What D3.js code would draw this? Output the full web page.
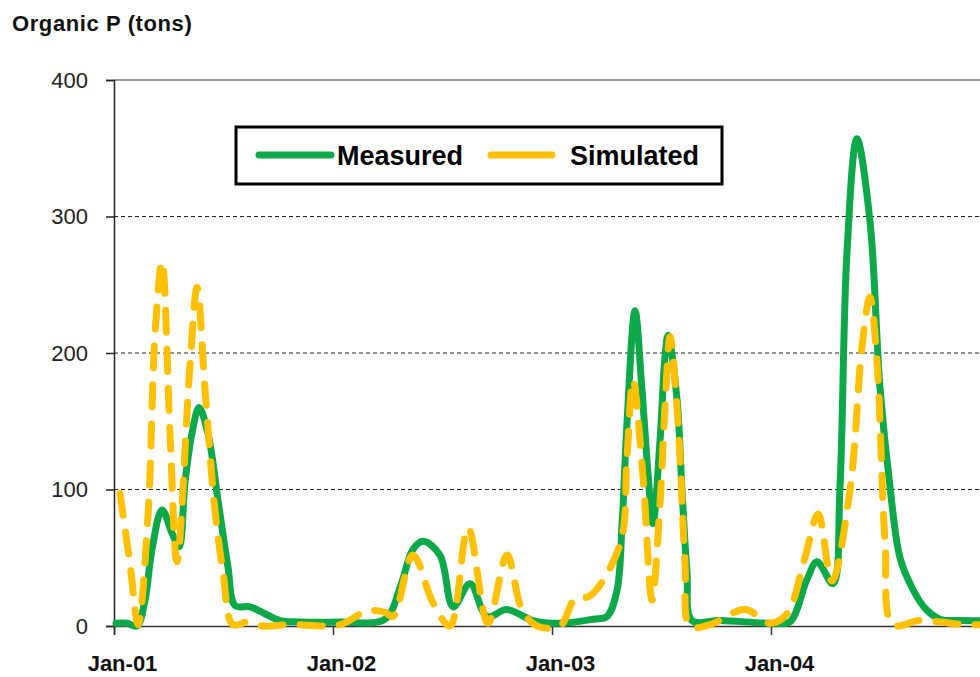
<!DOCTYPE html>
<html>
<head>
<meta charset="utf-8">
<script src="https://cdn.jsdelivr.net/npm/d3@7"></script>
<style>
  html, body { margin: 0; padding: 0; background: #ffffff; }
  svg { display: block; }
</style>
</head>
<body>
<div id="chart"></div>
<script>
// ---- Data (x = months since Jan 2001, y = tons) ----
const measuredMonths = [0.11, 0.71, 1.26, 1.70, 2.08, 2.63, 3.18, 3.56, 3.89, 4.27, 4.66, 5.15, 5.70, 6.25, 6.63, 7.45, 8.27, 9.10, 10.19, 12.38,
  14.85, 15.67, 16.38, 16.93, 17.86, 18.58, 19.51, 20.44, 21.53, 22.96, 24.44, 26.25, 27.01, 27.56, 27.84, 28.11, 28.55, 28.93, 29.26, 29.53,
  29.92, 30.19, 30.36, 30.85, 31.12, 31.40, 31.67, 33.21, 36.22, 37.04, 37.97, 38.52, 39.40, 39.78, 40.16, 40.71, 41.42, 41.97, 42.52, 43.07,
  43.73, 44.44, 45.26, 46.36, 48.0];
const measuredValues = [2, 2, 0, 19, 56, 85, 68, 58, 105, 141, 160, 141, 92, 43, 15, 14, 9, 4, 3, 3,
  5, 28, 56, 62, 52, 14, 31, 7, 12, 4, 2, 5, 7, 26, 75, 149, 231, 173, 112, 75,
  136, 197, 213, 166, 100, 39, 4, 4, 2, 3, 34, 47, 31, 102, 273, 357, 297, 175, 102, 50,
  28, 13, 5, 4, 4];

const simulatedMonths = [0.33, 0.88, 1.32, 1.86, 2.25, 2.63, 3.07, 3.45, 4.16, 4.55, 4.99, 5.53, 5.97, 6.52, 7.34, 8.11, 9.64, 12.38,
  13.86, 14.85, 15.29, 16.38, 17.48, 18.41, 19.40, 20.49, 21.53, 22.36, 23.18, 24.44, 25.26, 26.08, 27.73, 28.11, 28.44, 28.99, 29.48,
  29.92, 30.19, 30.47, 30.90, 31.29, 31.56, 32.66, 34.58, 35.95, 36.88, 37.86, 38.58, 39.34, 40.33, 40.99, 41.42, 41.81, 42.25, 42.68,
  44.16, 46.63, 48.0];
const simulatedValues = [97, 45, 1, 80, 214, 267, 141, 47, 190, 248, 173, 85, 40, 1, 3, 0, 1, 1,
  11, 10, 7, 52, 17, 0, 72, 2, 52, 12, 0, 0, 20, 22, 60, 124, 180, 109, 19,
  90, 160, 212, 150, 46, 0, 1, 12, 2, 9, 50, 82, 33, 100, 205, 241, 193, 61, 1,
  4, 1, 1];

const seriesNames = ["Measured", "Simulated"];
const seriesColors = ["#0DA84A", "#FFC000"];
const yTicks = [0, 100, 200, 300, 400];
const xTickMonths = [0, 12, 24, 36];
const xTickLabels = ["Jan-01", "Jan-02", "Jan-03", "Jan-04"];
const yTitle = "Organic P (tons)";

// ---- Layout ----
const W = 980, H = 677;
const svg = d3.select("#chart").append("svg").attr("width", W).attr("height", H);

const x = d3.scaleLinear().domain([0, 48]).range([114, 990]);
const y = d3.scaleLinear().domain([0, 400]).range([626, 80]);

// Title
svg.append("text")
  .attr("x", 12).attr("y", 31)
  .attr("font-family", "Liberation Sans, Arial, sans-serif")
  .attr("font-weight", "bold").attr("font-size", 22)
  .attr("letter-spacing", 0.6)
  .attr("fill", "#111")
  .text(yTitle);

// Gridlines (dashed) at 100,200,300
svg.append("g").selectAll("line")
  .data(yTicks.filter(d => d > 0 && d < 400))
  .join("line")
  .attr("x1", x(0)).attr("x2", W)
  .attr("y1", d => y(d)).attr("y2", d => y(d))
  .attr("stroke", "#222").attr("stroke-width", 1)
  .attr("stroke-dasharray", "4,3");

// Top border at 400
svg.append("line")
  .attr("x1", x(0)).attr("x2", W)
  .attr("y1", y(400)).attr("y2", y(400))
  .attr("stroke", "#777").attr("stroke-width", 1.5);

// Y axis
const yAxis = d3.axisLeft(y).tickValues(yTicks).tickSize(8).tickPadding(18);
const gy = svg.append("g").attr("transform", `translate(${x(0)},0)`).call(yAxis);
gy.select(".domain").attr("stroke", "#222").attr("stroke-width", 1.5);
gy.selectAll(".tick line").attr("stroke", "#222").attr("stroke-width", 1.5);
gy.selectAll(".tick text")
  .attr("font-family", "Liberation Sans, Arial, sans-serif")
  .attr("font-size", 22).attr("fill", "#222");

// X axis
const xAxis = d3.axisBottom(x).tickValues(xTickMonths).tickSize(9)
  .tickFormat((d, i) => xTickLabels[i]).tickPadding(20);
const gx = svg.append("g").attr("transform", `translate(0,${y(0)})`).call(xAxis);
gx.select(".domain").attr("stroke", "#333").attr("stroke-width", 1.5);
gx.selectAll(".tick line").attr("stroke", "#333").attr("stroke-width", 1.5);
gx.selectAll(".tick text")
  .attr("font-family", "Liberation Sans, Arial, sans-serif")
  .attr("font-weight", "bold").attr("font-size", 22).attr("fill", "#111")
  .attr("dx", 8);

// Lines
const line = d3.line()
  .x(d => x(d[0])).y(d => y(d[1]))
  .curve(d3.curveCatmullRom.alpha(0.5));

const measured = measuredMonths.map((m, i) => [m, measuredValues[i]]);
const simulated = simulatedMonths.map((m, i) => [m, simulatedValues[i]]);

svg.append("path")
  .attr("d", line(measured))
  .attr("fill", "none")
  .attr("stroke", seriesColors[0]).attr("stroke-width", 7)
  .attr("stroke-linejoin", "round").attr("stroke-linecap", "round");

svg.append("path")
  .attr("d", line(simulated))
  .attr("fill", "none")
  .attr("stroke", seriesColors[1]).attr("stroke-width", 7)
  .attr("stroke-dasharray", "22,17")
  .attr("stroke-linejoin", "round").attr("stroke-linecap", "round");

// Legend
const lg = svg.append("g");
lg.append("rect")
  .attr("x", 236).attr("y", 127).attr("width", 486).attr("height", 57)
  .attr("fill", "#fff").attr("stroke", "#000").attr("stroke-width", 3);
const legendItems = [
  { name: seriesNames[0], color: seriesColors[0], x1: 259, x2: 331, tx: 337 },
  { name: seriesNames[1], color: seriesColors[1], x1: 491, x2: 552, tx: 570 }
];
legendItems.forEach(it => {
  lg.append("line")
    .attr("x1", it.x1).attr("x2", it.x2).attr("y1", 155).attr("y2", 155)
    .attr("stroke", it.color).attr("stroke-width", 7).attr("stroke-linecap", "round");
  lg.append("text")
    .attr("x", it.tx).attr("y", 165)
    .attr("font-family", "Liberation Sans, Arial, sans-serif")
    .attr("font-weight", "bold").attr("font-size", 27).attr("fill", "#000")
    .text(it.name);
});
</script>
</body>
</html>
